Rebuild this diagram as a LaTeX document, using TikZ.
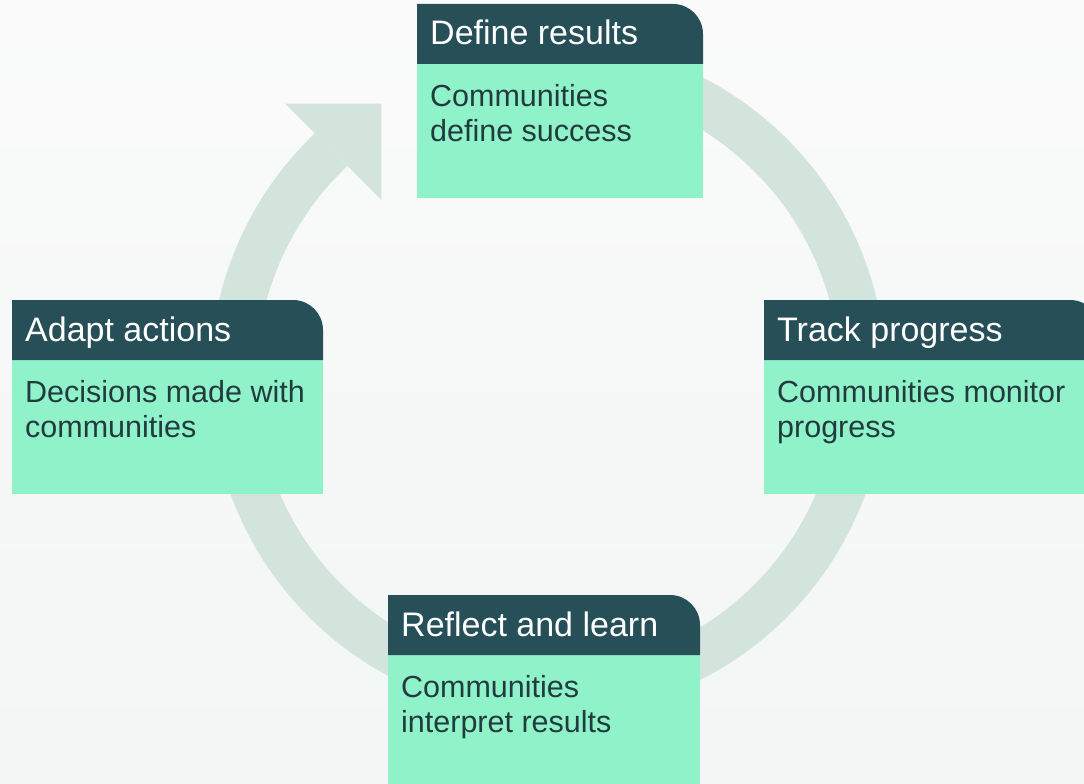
\documentclass[tikz,border=0pt]{standalone}
\usepackage{fontspec}
\setmainfont{Liberation Sans}
\usetikzlibrary{calc}
\definecolor{hdteal}{HTML}{264F58}
\definecolor{mint}{HTML}{90F2C9}
\definecolor{ringgrey}{HTML}{D3E4DD}
\definecolor{bodyink}{HTML}{213B3E}
\definecolor{bgtop}{HTML}{FAFBFA}
\definecolor{bgbot}{HTML}{F2F6F5}
\tikzset{hdtext/.style={anchor=base west, inner sep=0pt, white, font=\fontsize{34}{40}\selectfont},
         bdtext/.style={anchor=base west, inner sep=0pt, align=left, bodyink, font=\fontsize{30.5}{35}\selectfont}}

\begin{document}
\begin{tikzpicture}[x=1pt, y=-1pt]
  \useasboundingbox (0,0) rectangle (1084,784);
  \clip (0,0) rectangle (1084,784);
  \shade[top color=bgtop, bottom color=bgbot] (0,0) rectangle (1084,784);
  % cycle ring and its head
  \coordinate (c) at (548,378);
  \draw[ringgrey, line width=46] ($(c)+(-100:315)$) arc[start angle=-100, end angle=226.5, radius=315];
  \coordinate (hb) at ($(c)+(226.5:312)$);
  \fill[ringgrey] ($(hb)+(225:68)$) -- ($(hb)+(315:68)$) -- ($(hb)+(45:68)$) -- cycle;
  % the four steps
  \foreach \n/\x/\y/\w/\hd/\bd in {def/417/4/286/Define results/Communities\\define success,
        trk/764/300/336/Track progress/Communities monitor\\progress,
        ref/388/595/312/Reflect and learn/Communities\\interpret results,
        ada/12/300/311/Adapt actions/Decisions made with\\communities}{
     \fill[mint] (\x,\y+60) rectangle (\x+\w,\y+194);
     \fill[hdteal] (\x,\y+60) -- (\x,\y) -- (\x+\w-30,\y) arc[start angle=-90, end angle=0, radius=30] -- (\x+\w,\y+60) -- cycle;
     \node[hdtext] (hd-\n) at (\x+13,\y+41) {\hd};
     \node[bdtext] (bd-\n) at (\x+13,\y+137) {\bd};}
\end{tikzpicture}
\end{document}
